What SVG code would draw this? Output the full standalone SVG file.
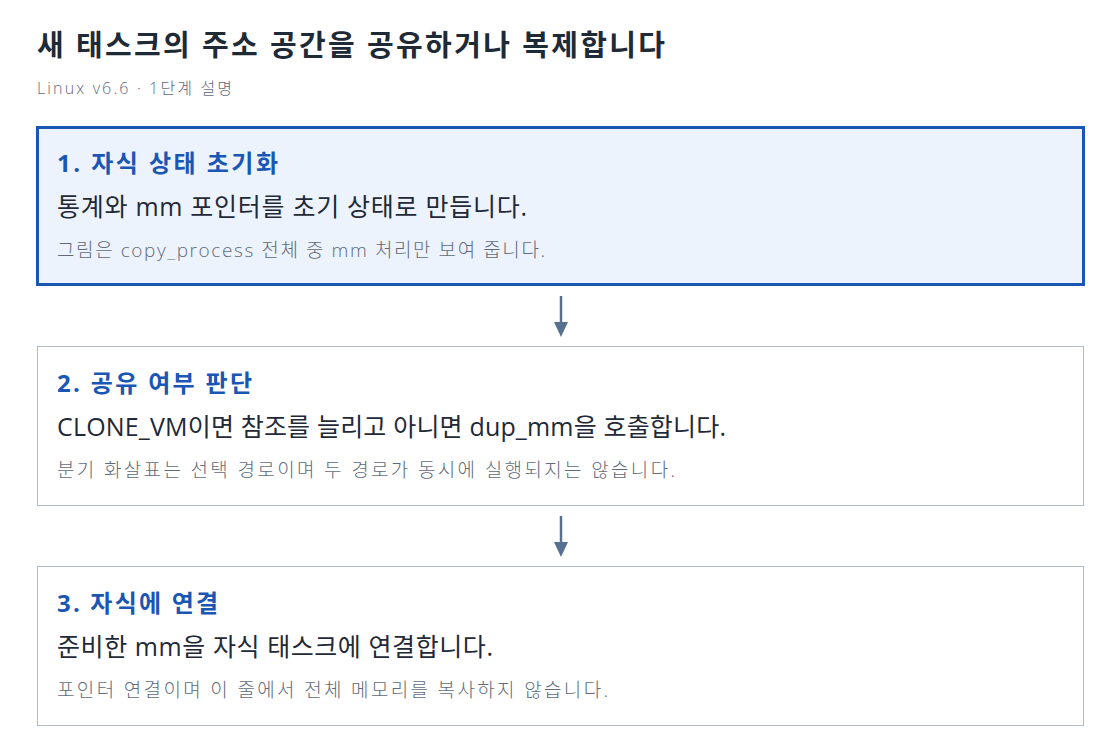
<svg xmlns="http://www.w3.org/2000/svg" width="1120" height="754" viewBox="0 0 1120 754">
<style>
text{font-family:"Open Sans","Noto Sans CJK KR",sans-serif}
.title{font-size:29px;font-weight:700;fill:#1f2a37}
.sub{font-size:16px;font-weight:300;fill:#5f6b7a}
.head{font-size:24px;font-weight:700;fill:#1a56b4}
.main{font-size:25px;fill:#1f2937}
.note{font-size:19px;font-weight:300;fill:#5f6b7a}
.box{fill:#ffffff;stroke:#b0bac8;stroke-width:1}
.box.active{fill:#edf3fd;stroke:#1a56b4;stroke-width:3}
.conn{stroke:#56708f;stroke-width:2.5;fill:none}
.head-arrow{fill:#56708f}
</style>
<rect width="1120" height="754" fill="#ffffff"/>
<text class="title" x="37" y="56" textLength="628" lengthAdjust="spacing">새 태스크의 주소 공간을 공유하거나 복제합니다</text>
<text class="sub" x="37" y="94" textLength="195" lengthAdjust="spacing">Linux v6.6 · 1단계 설명</text>
<g id="connectors">
<line class="conn" x1="561" y1="296" x2="561" y2="322"/>
<path class="head-arrow" d="M554,322 L568,322 L561,337 z"/>
<line class="conn" x1="561" y1="516" x2="561" y2="542"/>
<path class="head-arrow" d="M554,542 L568,542 L561,557 z"/>
</g>
<g id="node1">
<rect class="box active" x="37.5" y="127.5" width="1046" height="157"/>
<text class="head" x="57" y="172" textLength="221" lengthAdjust="spacing">1. 자식 상태 초기화</text>
<text class="main" x="57" y="216" textLength="470" lengthAdjust="spacing">통계와 mm 포인터를 초기 상태로 만듭니다.</text>
<text class="note" x="57" y="257" textLength="488" lengthAdjust="spacing">그림은 copy_process 전체 중 mm 처리만 보여 줍니다.</text>
</g>
<g id="node2">
<rect class="box" x="37.5" y="346.5" width="1046" height="159"/>
<text class="head" x="57" y="392" textLength="195" lengthAdjust="spacing">2. 공유 여부 판단</text>
<text class="main" x="57" y="436" textLength="669" lengthAdjust="spacing">CLONE_VM이면 참조를 늘리고 아니면 dup_mm을 호출합니다.</text>
<text class="note" x="57" y="477" textLength="618" lengthAdjust="spacing">분기 화살표는 선택 경로이며 두 경로가 동시에 실행되지는 않습니다.</text>
</g>
<g id="node3">
<rect class="box" x="37.5" y="566.5" width="1046" height="159"/>
<text class="head" x="57" y="612" textLength="161" lengthAdjust="spacing">3. 자식에 연결</text>
<text class="main" x="57" y="656" textLength="436" lengthAdjust="spacing">준비한 mm을 자식 태스크에 연결합니다.</text>
<text class="note" x="57" y="697" textLength="551" lengthAdjust="spacing">포인터 연결이며 이 줄에서 전체 메모리를 복사하지 않습니다.</text>
</g>
</svg>
